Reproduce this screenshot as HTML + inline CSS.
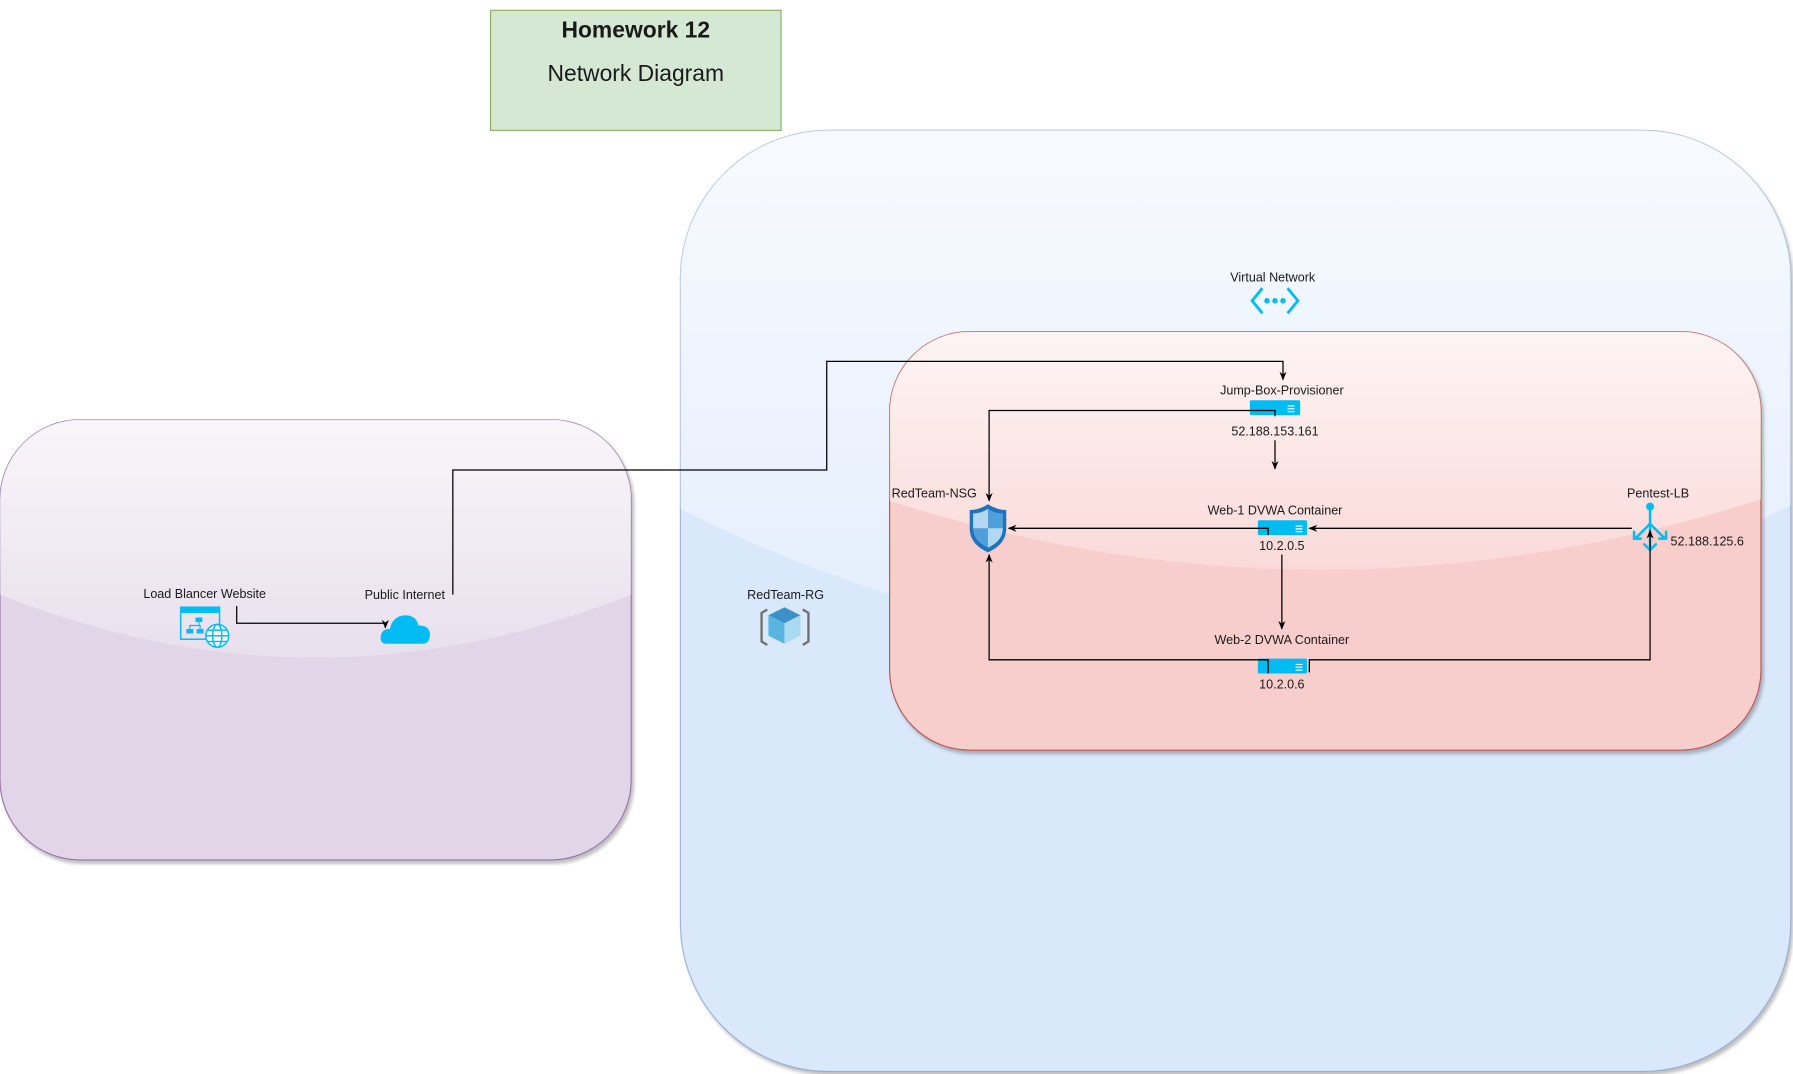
<!DOCTYPE html>
<html><head><meta charset="utf-8"><style>
html,body{margin:0;padding:0;background:#fff;}
svg{display:block;}
text{font-family:"Liberation Sans",Arial,sans-serif;fill:#1a1a1a;}
</style></head><body>
<svg width="1793" height="1074" viewBox="0 0 1568 939.2" xmlns="http://www.w3.org/2000/svg">
<defs>
<marker id="ar" viewBox="0 0 10 10" refX="9" refY="5" markerWidth="7" markerHeight="7" orient="auto"><path d="M0,1 L10,5 L0,9 L3,5 Z" fill="#000"/></marker>
<clipPath id="cp"><rect x="0" y="367" width="552" height="385" rx="70"/></clipPath>
<clipPath id="cb"><rect x="595" y="114" width="971" height="823" rx="130"/></clipPath>
<clipPath id="cr"><rect x="778" y="290" width="762" height="366" rx="70"/></clipPath>
<linearGradient id="gw" x1="0" y1="0" x2="0" y2="1"><stop offset="0" stop-color="#fff" stop-opacity="0.8"/><stop offset="1" stop-color="#fff" stop-opacity="0.25"/></linearGradient>
<filter id="sh" x="-5%" y="-5%" width="110%" height="110%"><feDropShadow dx="2" dy="3" stdDeviation="1.5" flood-color="#000" flood-opacity="0.25"/></filter>
</defs>

<!-- title -->
<rect x="429" y="9" width="254" height="105" fill="#d5e8d4" stroke="#82b366"/>
<text x="556" y="33" font-size="20" font-weight="bold" text-anchor="middle">Homework 12</text>
<text x="556" y="71" font-size="20" text-anchor="middle">Network Diagram</text>

<!-- purple -->
<rect x="0" y="367" width="552" height="385" rx="70" fill="#e1d5e7" stroke="#9673a6" filter="url(#sh)"/>
<path clip-path="url(#cp)" d="M0,360 H552 V520 Q276,630 0,520 Z" fill="url(#gw)"/>

<!-- blue -->
<rect x="595" y="114" width="971" height="823" rx="130" fill="#dae8fc" stroke="#6c8ebf" stroke-opacity="0.6" filter="url(#sh)"/>
<path clip-path="url(#cb)" d="M590,110 H1570 V440 Q1080,690 595,445 Z" fill="url(#gw)"/>

<!-- red -->
<rect x="778" y="290" width="762" height="366" rx="70" fill="#f8cecc" stroke="#b85450" filter="url(#sh)"/>
<path clip-path="url(#cr)" d="M775,285 H1545 V435 Q1159,560 778,438 Z" fill="url(#gw)"/>

<!-- labels -->
<g font-size="11" text-anchor="middle">
<text x="1113" y="246">Virtual Network</text>
<text x="1121" y="345">Jump-Box-Provisioner</text>
<text x="1115" y="381">52.188.153.161</text>
<text x="1115" y="450">Web-1 DVWA Container</text>
<text x="1121" y="481">10.2.0.5</text>
<text x="1121" y="563">Web-2 DVWA Container</text>
<text x="1121" y="602">10.2.0.6</text>
<text x="817" y="435">RedTeam-NSG</text>
<text x="1450" y="435">Pentest-LB</text>
<text x="1493" y="477">52.188.125.6</text>
<text x="687" y="524">RedTeam-RG</text>
<text x="179" y="523">Load Blancer Website</text>
<text x="354" y="524">Public Internet</text>
</g>

<!-- virtual network icon -->
<g stroke="#00bcf2" stroke-width="2.5" fill="none"><path d="M1104,252 L1095,263 L1104,274"/><path d="M1126,252 L1135,263 L1126,274"/></g>
<g fill="#00bcf2"><circle cx="1108" cy="263" r="2.4"/><circle cx="1115" cy="263" r="2.4"/><circle cx="1122" cy="263" r="2.4"/></g>

<!-- servers -->
<g>
<rect x="1093" y="350" width="44" height="13" rx="1.5" fill="#00bcf2"/>
<rect x="1100" y="455" width="43" height="13" rx="1.5" fill="#00bcf2"/>
<rect x="1100" y="576" width="43" height="13" rx="1.5" fill="#00bcf2"/>
<g stroke="#fff" stroke-width="1"><path d="M1126,355h6M1126,357.5h6M1126,360h6M1133,460h6M1133,462.5h6M1133,465h6M1133,581h6M1133,583.5h6M1133,586h6"/></g>
</g>

<!-- shield -->
<path d="M864,441 Q872,446 880,446 V462 Q880,476 864,483 Q848,476 848,462 V446 Q856,446 864,441 Z" fill="#1e73be"/>
<path d="M864,445 Q870,449 877,449 V462 Q877,473 864,479 Q851,473 851,462 V449 Q858,449 864,445 Z" fill="#4f9fdb"/>
<path d="M864,445 V462 H851 V449 Q858,449 864,445 Z" fill="#b3d7f0"/>
<path d="M864,462 H877 Q877,473 864,479 Z" fill="#b3d7f0"/>

<!-- load balancer icon -->
<g stroke="#00bcf2" stroke-width="2.2" fill="none" stroke-linecap="round">
<path d="M1443,446 V463"/><path d="M1443,458 L1431,470"/><path d="M1443,458 L1455,470"/><path d="M1443,463 V480"/>
<path d="M1429,465 V471 H1435"/><path d="M1457,465 V471 H1451"/><path d="M1438,476 L1443,481 L1448,476"/>
</g>
<circle cx="1443" cy="443" r="3.5" fill="#00bcf2"/>

<!-- resource group icon -->
<g fill="none" stroke="#6e6e6e" stroke-width="2"><path d="M671,533 L666,536 V561 L671,564"/><path d="M702,533 L707,536 V561 L702,564"/></g>
<path d="M686,531 L700,538 L686,545 L672,538 Z" fill="#3c91c9"/>
<path d="M672,538 L686,545 V563 L672,556 Z" fill="#5ab4e0"/>
<path d="M700,538 L686,545 V563 L700,556 Z" fill="#a9daf2"/>

<!-- website icon -->
<g fill="none" stroke="#00bcf2" stroke-width="1.3">
<rect x="158" y="531" width="34" height="28"/>
<circle cx="190" cy="556" r="10" fill="#fff"/>
<ellipse cx="190" cy="556" rx="4" ry="10"/><path d="M180,556 H200 M182,551 H198 M182,561 H198"/>
</g>
<rect x="158" y="531" width="34" height="5" fill="#00bcf2"/>
<g fill="#00bcf2"><rect x="171" y="540" width="6" height="4"/><rect x="163" y="550" width="6" height="4"/><rect x="172" y="550" width="6" height="4"/></g>
<path d="M174,544 V547 H166 V550 M174,547 H175 V550" stroke="#00bcf2" fill="none"/>

<!-- cloud -->
<path d="M338,563 Q332,563 333,556 Q334,550 341,550 Q343,539 354,538 Q364,538 366,547 Q376,547 376,555 Q376,563 369,563 Z" fill="#00bcf2"/>

<!-- connectors -->
<g fill="none" stroke="#000" stroke-width="1.1">
<path d="M396,520 V411 H723 V316 H1122 V332" marker-end="url(#ar)"/>
<path d="M1115,364 V359 H865 V438" marker-end="url(#ar)"/>
<path d="M1115,385 V410" marker-end="url(#ar)"/>
<path d="M1109,468 V462 H882" marker-end="url(#ar)"/>
<path d="M1427,462 H1145" marker-end="url(#ar)"/>
<path d="M1121,485 V550" marker-end="url(#ar)"/>
<path d="M1109,589 V577 H865 V485" marker-end="url(#ar)"/>
<path d="M1145,588 V577 H1443 V464" marker-end="url(#ar)"/>
<path d="M207,530 V545 H337 V549" marker-end="url(#ar)"/>
</g>
</svg>
</body></html>
